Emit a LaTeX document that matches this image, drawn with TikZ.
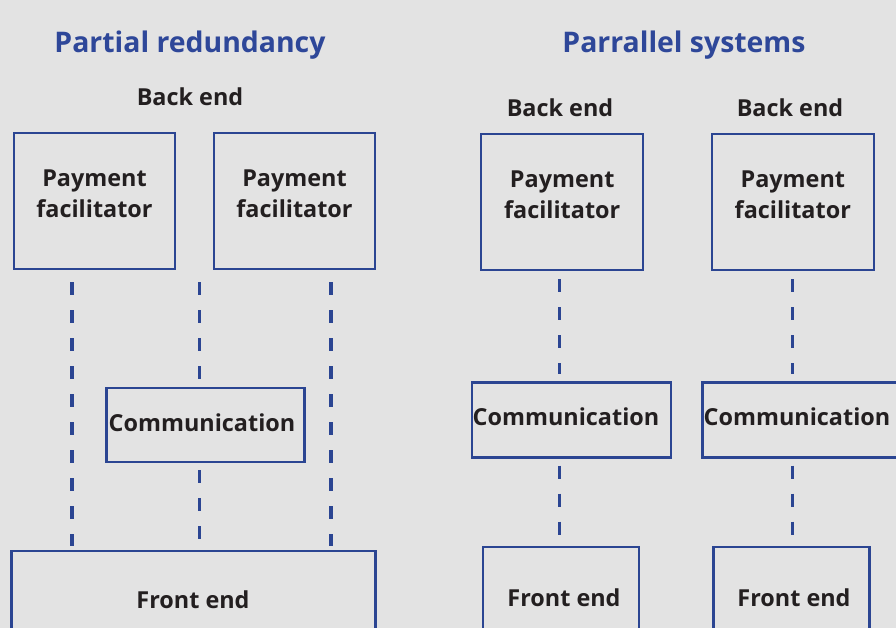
\documentclass[tikz,border=0pt]{standalone}
\usepackage{fontspec}
\setmainfont{Open Sans}
\usetikzlibrary{calc}
\definecolor{bg}{HTML}{E3E3E3}
\definecolor{lineblue}{HTML}{2B4592}
\definecolor{titleblue}{HTML}{2E4799}
\definecolor{ink}{HTML}{231F20}
\tikzset{
  boxst/.style={draw=lineblue, line width=2.6pt, fill=none, inner sep=0pt},
  thinbox/.style={boxst, line width=2pt},
  lbl/.style={text=ink, font=\fontsize{23.4}{31}\selectfont\bfseries, align=center, inner sep=0pt},
  ttl/.style={text=titleblue, font=\fontsize{28.4}{34}\selectfont\bfseries, inner sep=0pt},
  dashline/.style={draw=lineblue, line width=3.4pt, dash pattern=on 13pt off 15pt}
}
\begin{document}
\begin{tikzpicture}[x=1pt,y=-1pt]
\useasboundingbox (0,0) rectangle (896,628);
\fill[bg] (0,0) rectangle (896,628);
\clip (0,0) rectangle (896,628);

% ---------- Left: Partial redundancy ----------
\node[ttl] (t1) at (190,45) {Partial redundancy};
\node[lbl] (be1) at (190,97) {Back end};

\node[thinbox, minimum width=161pt, minimum height=136pt] (pf1) at (94.5,201) {};
\node[lbl] (pf1t) at (94.5,194) {Payment\\facilitator};
\node[thinbox, minimum width=161pt, minimum height=136pt] (pf2) at (294.5,201) {};
\node[lbl] (pf2t) at (294.5,194) {Payment\\facilitator};

\node[boxst, minimum width=198pt, minimum height=74pt] (cm1) at (205.3,425) {};
\node[lbl] (cm1t) at (202,423) {Communication};

\node[boxst, minimum width=364pt, minimum height=98pt] (fe1) at (193.3,600) {};
\node[lbl] (fe1t) at (193,600) {Front end};

\coordinate (l1a) at (72,282);
\coordinate (l1b) at (72,546);
\coordinate (l2a) at (199.5,282);
\coordinate (l3a) at (331,282);
\coordinate (l3b) at (331,546);

\draw[dashline] (l1a) -- (l1b);
\draw[dashline] (l2a) -- (l2a |- cm1.north);
\draw[dashline] ($(l2a |- cm1.south)+(0,7)$) -- ($(l2a |- fe1.north)+(0,-5)$);
\draw[dashline] (l3a) -- (l3b);

% ---------- Right: Parallel systems ----------
\node[ttl] (t2) at (684,45) {Parrallel systems};
\node[lbl] (be2) at (560,108) {Back end};
\node[lbl] (be3) at (790,108) {Back end};

\node[thinbox, minimum width=162pt, minimum height=136pt] (pf3) at (562.2,202.3) {};
\node[lbl] (pf3t) at (562.2,195) {Payment\\facilitator};
\node[thinbox, minimum width=162pt, minimum height=136pt] (pf4) at (792.8,202.3) {};
\node[lbl] (pf4t) at (792.8,195) {Payment\\facilitator};

\node[boxst, minimum width=199pt, minimum height=75pt] (cm2) at (571.5,419.8) {};
\node[lbl] (cm2t) at (566,416.7) {Communication};
\node[boxst, minimum width=199pt, minimum height=75pt] (cm3) at (801.8,419.8) {};
\node[lbl] (cm3t) at (797,416.7) {Communication};

\node[boxst, minimum width=156pt, minimum height=98pt] (fe2) at (560.8,596) {};
\node[lbl] (fe2t) at (564,597.3) {Front end};
\node[boxst, minimum width=156pt, minimum height=98pt] (fe3) at (791.3,596) {};
\node[lbl] (fe3t) at (794,597.3) {Front end};

\draw[dashline] ($(pf3.south)+(-3,8)$) -- ($(pf3.south |- cm2.north)+(-3,-7)$);
\draw[dashline] ($(cm2.south)+(-12,7)$) -- ($(cm2.south |- fe2.north)+(-12,-6)$);
\draw[dashline] ($(pf4.south)+(-0.5,8)$) -- ($(pf4.south |- cm3.north)+(-0.5,-7)$);
\draw[dashline] ($(cm3.south)+(-9.5,7)$) -- ($(cm3.south |- fe3.north)+(-9.5,-6)$);
\end{tikzpicture}
\end{document}
